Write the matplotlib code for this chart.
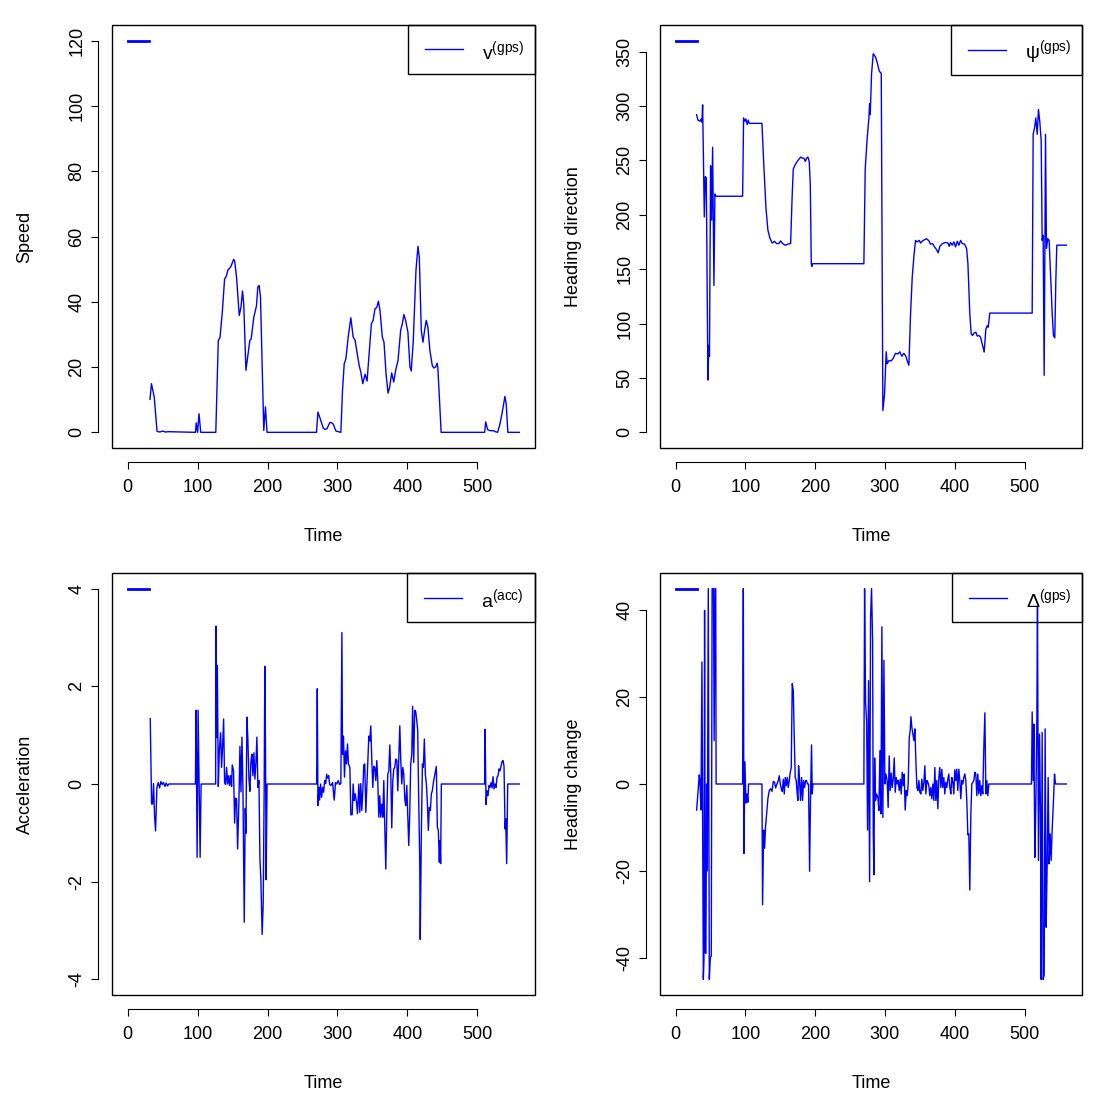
import numpy as np
import matplotlib
matplotlib.use("Agg")
import matplotlib.pyplot as plt
from matplotlib.patches import Rectangle

plt.rcParams["font.family"] = ["Liberation Sans", "DejaVu Sans"]
plt.rcParams["mathtext.fontset"] = "custom"
plt.rcParams["mathtext.rm"] = "Liberation Sans"
plt.rcParams["mathtext.it"] = "Liberation Sans"
plt.rcParams["mathtext.default"] = "regular"

# short lead-in segment drawn at the top of every panel
lead_t = [0, 31]

# speed (time, v)
speed = np.array([
	[32, 10.1], [34, 14.9], [38, 10.8], [42, 0.3], [46, 0.1], [50, 0.4], [54, 0.1], [58, 0.2],
	[97, 0], [98, 2.9], [100, 0], [102, 5.7], [104.5, 0], [126, 0], [129.6, 28.2], [132, 29],
	[135.3, 36.8], [138.6, 47], [141, 47.8], [143.4, 49.8], [147.1, 50.6], [149, 51.6], [151.5, 53],
	[153, 52.5], [155.7, 47.5], [159.5, 35.8], [162, 38.3], [164.2, 43.3], [166, 39.2], [169.1, 19],
	[171.9, 23.6], [174.7, 28.2], [176.6, 28.6], [180.4, 35.3], [184.2, 38.8], [186.1, 44.5], [188, 45],
	[189.9, 41.5], [194.6, 0.6], [197, 7.8], [199.3, 0], [270, 0], [272, 6.2], [275.4, 4.1],
	[279.7, 1.3], [282, 0.9], [285, 1.1], [289, 3], [291, 3], [294, 2.5], [297.7, 0.4], [304.8, 0],
	[307.2, 12.9], [309.6, 21], [312, 22.5], [315.3, 29.2], [319.1, 35.1], [322.4, 29.2], [325.2, 28.2],
	[328.6, 23.6], [331, 20.5], [333.3, 18.5], [336.2, 14.9], [339.5, 17.8], [342.3, 15.7], [345.6, 25.1],
	[348.5, 33.3], [350.9, 34.3], [353.7, 37.9], [356.1, 38.2], [358.5, 40.2], [360.8, 37.3], [364.1, 29.2],
	[366.5, 27.6], [369.4, 18], [372.3, 12], [374.6, 13.8], [377.5, 18.2], [380.4, 15.4], [383.2, 19],
	[386.5, 22], [390.3, 31.2], [392.7, 33.3], [395, 36.1], [397.4, 34.3], [400.7, 30.7], [403.6, 20],
	[405.5, 18.8], [408.4, 28.2], [412.2, 49.6], [415.1, 57], [417, 53.6], [419.8, 31.2], [422.2, 27.6],
	[424.5, 31.2], [426.9, 34.3], [429.3, 32.2], [432.1, 25.1], [435.5, 20.5], [437.8, 19.7], [440.2, 20],
	[442.5, 21.2], [443.5, 19.8], [448.2, 0], [510.4, 0], [511.9, 3.2], [514.7, 0.8], [518.5, 0.5],
	[523.3, 0.5], [525.6, 0.2], [528.9, 0], [531.8, 2.1], [535.2, 5.7], [539.4, 11], [541.2, 8.8],
	[543.6, 0], [560, 0],
])

# heading direction (time, psi)
heading = np.array([
	[30.1, 292], [32, 287], [34.9, 286], [36.8, 288], [37.7, 285], [38.7, 301], [41.1, 198], [42.5, 235],
	[43.9, 234], [44.4, 198], [46.3, 48], [47.5, 80], [48.5, 70], [50.1, 245], [51.6, 195], [53, 262],
	[54.9, 135], [56.3, 219], [57.8, 217], [96, 217], [97.4, 289], [99.3, 286], [100.7, 288], [102.6, 283],
	[104, 287], [105.5, 284], [123.7, 284], [126.5, 244], [129.4, 207], [132.2, 186], [135.1, 178.5],
	[138.4, 174], [141.8, 175.5], [144.7, 173.5], [148, 173.5], [150.4, 176], [153.3, 173.5], [157.1, 172],
	[160.9, 173], [164.8, 173.5], [167.1, 219], [168.6, 242], [171.4, 246], [174.3, 249], [176.7, 251],
	[179.1, 253], [181.5, 252], [183.8, 252], [185.8, 249], [187.7, 252], [189.6, 253], [191.5, 249],
	[193, 228], [194.4, 155], [195.4, 152.5], [196.3, 155], [269.8, 155], [271.7, 242], [274.6, 271],
	[277, 289], [278, 302], [278.9, 292], [280.8, 329.5], [283.2, 348], [286.5, 345], [288.9, 340],
	[291.8, 332], [294.7, 330], [297, 20], [299.4, 35], [301.8, 74], [303.2, 63], [305.6, 66],
	[308.9, 65.6], [311.8, 68], [315.1, 72.6], [318.5, 72], [321.3, 74], [324.2, 70], [327.1, 72.6],
	[330, 70], [332.4, 64.8], [334.3, 61.7], [336.7, 109], [339.1, 142.7], [341.4, 161], [343.8, 176.4],
	[346.2, 175], [349.1, 176.4], [351, 174], [353.9, 176], [356.7, 177], [359.6, 178], [363, 176],
	[365.3, 173], [368.2, 173.5], [371.1, 170.4], [373.9, 168], [376.3, 165], [378.7, 171], [381.6, 173],
	[384.4, 174], [387.3, 174.5], [390.2, 174], [392.1, 171], [394, 174.5], [396.4, 172], [398.8, 175],
	[401.2, 170.4], [403.6, 175.6], [406, 172], [408.4, 176.4], [410.8, 173.5], [414.1, 173], [417, 169],
	[418.9, 155], [421.6, 109], [423.6, 90.6], [425.5, 89], [427.4, 91], [430.3, 92], [432.2, 88.5],
	[434.6, 89], [437, 87.5], [439.4, 81.3], [442.2, 73.8], [444.6, 95], [446.6, 98], [448, 96.6],
	[450.3, 109.6], [511, 109.6], [512.4, 274], [514.3, 279.6], [516.2, 289], [518.2, 274], [520, 296.7],
	[522, 285], [523.9, 268], [525.3, 176.4], [526.7, 181], [528.2, 52.4], [530.1, 274], [531.5, 169],
	[533.4, 178], [535.3, 176.4], [537.3, 146], [539.7, 109], [541.5, 89], [543.4, 86.8], [544.9, 139.6],
	[546.3, 172], [560, 172],
])

# acceleration (time, a)
accel = np.array([
	[32.3, 1.34], [34.2, -0.41], [35.6, -0.41], [37, 0.01], [38.5, -0.67], [39.9, -0.96], [41.8, -0.07],
	[43.7, 0.03], [45.6, -0.08], [47.5, 0.05], [49.4, -0.01], [51.3, 0.03], [53.2, -0.05], [55.1, 0.02],
	[57, -0.04], [58.9, 0], [96.9, 0], [97.8, 1.51], [99.3, -1.5], [100.7, 1.51], [102.1, 0], [103.6, -1.5],
	[105, 0], [125.8, 0], [126.3, 3.23], [127.3, 0.95], [128.2, 2.43], [129.6, -0.05], [131, 0.68],
	[132.9, 1.05], [134.3, 0.34], [135.7, 0.75], [137.2, 1.33], [138.6, 0.03], [140, -0.01], [141.5, 0.34],
	[142.9, 0], [144.3, 0.17], [145.7, -0.03], [147.2, 0.17], [148.6, -0.05], [149.5, 0.39], [151.4, 0.27],
	[152.9, -0.8], [154.3, -0.29], [155.7, -0.31], [157.2, -1.33], [159.1, -0.34], [160.5, 0.77],
	[162, -0.16], [163.4, 0.96], [164.8, -0.07], [166.7, -2.83], [168.1, -0.5], [169.1, -1.01],
	[170.5, 1.37], [171.9, 0.9], [173.4, 0.1], [174.8, -0.15], [176.2, 0.46], [177.6, 0.61], [179.1, 0.17],
	[180.5, 0.64], [181.9, 0.1], [183.4, 0.44], [184.8, 0.96], [186.2, -0.07], [187.7, 0.07], [189.1, -1.53],
	[190.5, -1.97], [192.3, -3.08], [193.8, -2.44], [195.2, -0.07], [196.1, 2.41], [197.1, 0.69],
	[198, -1.96], [199.3, 0], [270.2, 0], [271.1, 1.95], [272.1, -0.44], [273.5, -0.07], [274.5, -0.33],
	[275.9, 0], [277.3, -0.27], [278.8, -0.07], [280.2, -0.17], [281.6, 0.07], [283.1, 0.01], [284.5, 0.2],
	[285.9, 0.12], [287.4, 0.17], [288.8, -0.01], [290.6, -0.03], [293, 0.03], [295.3, -0.33], [297.2, 0.03],
	[299.1, 0], [301, 0.07], [302.9, -0.01], [304.8, 0.01], [306.3, 3.1], [307.2, 0.61], [308.6, 0.98],
	[310, 0.14], [311.5, 0.68], [312.9, 0.41], [314.3, 0.82], [315.7, 0.41], [317.7, 0.34], [319.1, -0.63],
	[321, -0.63], [322.4, 0], [323.8, -0.34], [325.2, -0.2], [327.2, -0.37], [328.6, -0.61], [330.5, 0],
	[331.9, -0.58], [333.3, 0.01], [334.8, -0.54], [336.2, -0.14], [337.6, 0.39], [339, 0.41],
	[340.5, -0.58], [341.9, -0.07], [343.3, 0.44], [344.8, 0.98], [346.2, 0.88], [347.6, 1.19],
	[349.1, 0.48], [350.5, -0.07], [351.9, 0.36], [353.4, 0.34], [354.8, 0.07], [356.2, 0.48],
	[357.6, 0.07], [359.1, -0.68], [360.5, -0.24], [361.9, -0.68], [363.4, -0.41], [364.8, -0.68],
	[366.2, 0.07], [367.6, -0.88], [369.1, -1.74], [370.5, -0.61], [371.9, 0.2], [373.4, 0.27],
	[374.8, 0.8], [376.2, 0.2], [377.6, -0.9], [379.1, 0.07], [380.5, 0.31], [381.9, 0.34], [383.3, 0.51],
	[384.8, 0.49], [386.2, -0.14], [387.6, 0.51], [389.1, 1.19], [390.5, 0.48], [391.9, 0], [393.4, 0.34],
	[394.8, 0.2], [396.2, -0.31], [397.6, -0.44], [399.1, -0.03], [400.5, -0.68], [401.9, -1.26],
	[403.3, -0.61], [404.7, 0.41], [406.2, 0.61], [407.4, 1.59], [409, 0.44], [410.4, 1.51], [411.9, 1.48],
	[413.3, 1.31], [414.7, 1.1], [416.1, -0.33], [417.6, -1.56], [418.3, -3.18], [419.9, -1.02],
	[421.4, 0.41], [422.8, 0.34], [424.2, 0.92], [425.6, 0.2], [427.1, 0], [428.5, -0.37], [429.9, -0.95],
	[431.3, -0.48], [432.8, -0.54], [434.2, -0.2], [435.6, -0.14], [437.1, 0.03], [438.5, 0.14],
	[439.9, 0.24], [441.3, 0.36], [442.8, -0.88], [444.2, -0.95], [445.6, -1.6], [446.6, -1.16],
	[447.5, -1.63], [448.5, 0], [510.4, 0], [511, 1.12], [512.4, -0.42], [513.8, -0.14], [515.2, -0.24],
	[516.7, -0.03], [518.1, -0.07], [519.6, 0.03], [521, -0.08], [522.4, 0.15], [523.8, -0.1], [525.3, 0],
	[526.7, -0.07], [528.1, 0.14], [529.6, 0.17], [531, 0.31], [532.4, 0.27], [533.9, 0.37], [535.3, 0.46],
	[536.7, 0.48], [538.1, 0.36], [539.6, -0.92], [540.5, -0.71], [541.9, -1.63], [543.4, 0], [560, 0],
])

# heading change (time, delta), clipped at +-45
heading_change = np.array([
	[30.1, -6], [32, -2.1], [33.9, 2.1], [34.9, 0.5], [36.3, -6], [37.7, 28.1], [38.7, -6.8], [39.7, -45],
	[40.6, -40.6], [41.5, 40], [42.5, -38.9], [43.4, -39], [44.4, 0], [45.4, -20], [46.8, 45], [48.3, -45],
	[49.7, -40], [51.1, -39.6], [52.3, 45], [54.3, 45], [55.2, 10], [56.5, 45], [57.5, 45], [58, 0],
	[96, 0], [97, 45], [97.9, -16], [99.3, 5.1], [100.7, -4.4], [102.1, -2.3], [103.6, -4.2], [104.5, 0],
	[123.7, 0], [124.6, -27.8], [126.1, -10.6], [127.5, -14.8], [128.9, -9.8], [130.4, -6.8],
	[132.3, -3.3], [134.2, -1.5], [136.1, -1.1], [138, -1.7], [140, 0.6], [141.8, 0.4], [143.3, -0.9],
	[145.2, 0], [147.1, 0.8], [148.5, 1.9], [150, 0], [151.4, -1.1], [152.8, -1.7], [154.3, 1.1],
	[155.7, -2.3], [157.1, 1.5], [158.6, -0.4], [160, 1.5], [161.4, -0.8], [162.9, 0.8], [164.3, 2.7],
	[165.7, 3.8], [167.1, 23.1], [168.6, 21.6], [170, 10.9], [171.4, 1.5], [172.8, 0.8], [174.3, -2.3],
	[175.2, -3.8], [176.2, 4.2], [177.6, 0.8], [179, -3.8], [180.5, 1.5], [181.9, -3.8], [183.3, 0.8],
	[184.8, -0.8], [186.2, 0.8], [187.6, 0.8], [189, 0], [190.5, 0], [192, -20.1], [193.4, -2.3],
	[194.8, 9], [195.8, -2.3], [196.7, 0], [269.8, 0], [270.8, 45], [272.2, 18.8], [273.7, 14.6],
	[275.1, -10.6], [276.5, 23.8], [278, -22.5], [279.4, 38.3], [280.8, 45], [282.3, 33], [283.2, -11],
	[284.2, -20.9], [285.2, 6], [286.5, -3.8], [288, -2.3], [289.9, -3.1], [291.3, -6.1], [292.8, 7.7],
	[294.2, -6.9], [295.6, 36.2], [297, -7.7], [298.5, 28.5], [299.9, 0], [301.3, 2.3], [303.2, 0.8],
	[304.6, -5.4], [306.1, 6.5], [307.5, -1.5], [309, 2.5], [310.4, -0.8], [311.8, 1.1], [313.3, 6],
	[314.7, -1.9], [316.1, 1.5], [317.6, 0], [319, 0.8], [320.4, -1.5], [321.9, 1.1], [323.3, -2.3],
	[324.7, 2.7], [326.2, -0.4], [327.6, 2.3], [329, -6], [330.5, -1.5], [331.9, -2.7], [333.3, 0],
	[334.8, 10.7], [336.2, 12.3], [337.2, 15.5], [338.6, 13], [340, 11.5], [341.5, 10], [342.9, 12.7],
	[344.3, 5.4], [345.8, -0.8], [347.2, -1.5], [348.6, 0.8], [350, -1.9], [351.5, -2.3], [352.9, 1.1],
	[354.3, -1.5], [355.8, 0.4], [357.2, 4.2], [358.6, -2.3], [360.1, 0.8], [361.5, 0.4], [362.9, -0.4],
	[364.3, -2.7], [365.8, -0.8], [367.2, -3.4], [368.6, 0], [370.1, -3.8], [371.5, 3.8], [372.9, -3.8],
	[374.3, 0.8], [375.8, -5.7], [377.2, 1.5], [378.6, 3.8], [380.1, -0.8], [381.5, 3.4], [382.9, -0.8],
	[384.4, 1.5], [385.8, -2.3], [387.2, 0.4], [388.7, -0.8], [390.1, 1.1], [391.5, 2.3], [393, -0.8],
	[394.4, -2.3], [395.8, 1.5], [397.3, 0.4], [398.7, -2.3], [400.1, 3.3], [401.6, 0.8], [403, 3.4],
	[404.4, -1.5], [405.9, 3.4], [407.3, 0.8], [408.7, -3.4], [410.2, 0.8], [411.6, 0], [413, 1.5],
	[414.5, 2.3], [415.9, 0.8], [417.3, -3.8], [418.8, -11.7], [420.2, -11.5], [421.6, -24.4],
	[423.1, -6.9], [424.5, 0], [425.9, 0.4], [427.4, 0.8], [428.8, 2.7], [430.2, 2.3], [431.7, -2.7],
	[433.1, 2.3], [434.5, -2.3], [435.9, 0.8], [437.4, -2.7], [438.8, -0.4], [440.2, -2.3], [441.7, 8.4],
	[443.2, 16.4], [444.6, -2.3], [446, 0.8], [447.5, -2.7], [448.9, 0], [510, 0], [511, 16.6],
	[512.4, 0.8], [513.4, 13.8], [514.8, -16.9], [516.2, -5.4], [517.7, 14.6], [518.6, 40.8],
	[520, -17.6], [521.5, 11.5], [522.9, -6.9], [523.9, -45], [525.3, 11.9], [526.7, -45], [528.2, -44],
	[529.6, 12.7], [531, -33], [532.5, -18.4], [533.9, 1.5], [535.3, -18.4], [536.8, -11.5],
	[538.2, -17.6], [539.6, -10.7], [541.1, -5.4], [543, 2.3], [544.4, 0], [560, 0],
])

x_range = (0, 560)
x_ticks = [0, 100, 200, 300, 400, 500]

W = 1095.0
fig = plt.figure(figsize=(10.95, 10.95), dpi=100)


def r_axes(rect_px, data, y_range, y_ticks, ylabel, legend_label, legend_px):
	l, t, r, b = rect_px
	ax = fig.add_axes([l / W, 1 - b / W, (r - l) / W, (b - t) / W])
	ax.plot(data[:, 0], data[:, 1], color="#0000ff", lw=1.0)
	ax.plot(lead_t, [y_range[1], y_range[1]], color="#0000ff", lw=2.0)

	dx = 0.04 * (x_range[1] - x_range[0])
	dy = 0.04 * (y_range[1] - y_range[0])
	ax.set_xlim(x_range[0] - dx, x_range[1] + dx)
	ax.set_ylim(y_range[0] - dy, y_range[1] + dy)

	for s in ("top", "right"):
		ax.spines[s].set_visible(False)
	for s in ("left", "bottom"):
		ax.spines[s].set_position(("outward", 10))
		ax.spines[s].set_linewidth(0.8)
	ax.spines["bottom"].set_bounds(x_ticks[0], x_ticks[-1])
	ax.spines["left"].set_bounds(y_ticks[0], y_ticks[-1])
	ax.add_patch(Rectangle((0, 0), 1, 1, transform=ax.transAxes, fill=False,
		lw=1.0, edgecolor="black", clip_on=False))

	ax.set_xticks(x_ticks)
	ax.set_yticks(y_ticks)
	ax.set_yticklabels([str(v) for v in y_ticks], rotation=90, va="center")
	ax.tick_params(direction="out", length=5, width=0.8, labelsize=13)
	ax.tick_params(axis="x", pad=7)
	ax.tick_params(axis="y", pad=4)

	cx = (l + r) / 2 / W
	fig.text(cx, 1 - 536 / W if t < 500 else 1 - 1083 / W, "Time",
		ha="center", va="center", fontsize=13)
	fig.text((l - 87) / W, 1 - (t + b) / 2 / W, ylabel, rotation=90,
		ha="center", va="center", fontsize=13)

	# legend box, R style
	bx0 = (legend_px[0] - l) / (r - l)
	by0 = (b - legend_px[1]) / (b - t)
	ax.add_patch(Rectangle((bx0, by0), 1 - bx0, 1 - by0, transform=ax.transAxes,
		fill=False, lw=1.0, edgecolor="black", clip_on=False, zorder=5))
	ly = (by0 + 1) / 2
	ax.plot([bx0 + 0.04, bx0 + 0.13], [ly, ly], color="#0000ff", lw=1.0,
		transform=ax.transAxes, clip_on=False, zorder=6)
	ax.text(bx0 + 0.175, ly - 0.005, legend_label, transform=ax.transAxes,
		ha="left", va="center", fontsize=14, zorder=6)
	return ax


r_axes((112, 25, 535, 448), speed, (0, 120), [0, 20, 40, 60, 80, 100, 120],
	"Speed", r"$v^{(gps)}$", (408, 74))
r_axes((660, 25, 1082, 448), heading, (0, 360), [0, 50, 100, 150, 200, 250, 300, 350],
	"Heading direction", r"$\psi^{(gps)}$", (951, 75))
r_axes((112, 573, 535, 995), accel, (-4, 4), [-4, -2, 0, 2, 4],
	"Acceleration", r"$a^{(acc)}$", (407, 622))
r_axes((660, 573, 1082, 995), heading_change, (-45, 45), [-40, -20, 0, 20, 40],
	"Heading change", r"$\Delta^{(gps)}$", (952, 622))

fig.savefig("out.png", dpi=100)
